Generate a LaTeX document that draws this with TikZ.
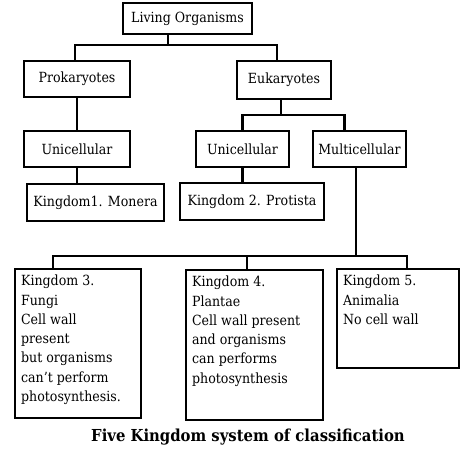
\documentclass[tikz,border=0pt]{standalone}
\usepackage{fontspec}
\setmainfont{DejaVu Serif Condensed}
\usepackage{tikz}
\tikzset{
  box/.style={draw,line width=2.2pt,inner sep=2pt,font=\fontsize{14}{19.3}\selectfont},
  kbox/.style={box,anchor=north west,inner sep=6pt},
  link/.style={line width=2.2pt}
}
\newcommand{\kbtext}[3]{\parbox[t][#1pt][t]{#2pt}{\raggedright #3}}

\begin{document}
\begin{tikzpicture}[x=1pt,y=-1pt]
    \useasboundingbox (0,0) rectangle (474,455);

    \node[box,minimum width=129,minimum height=31] (living) at (187.5,18.5) {Living Organisms};
    \node[box,minimum width=106,minimum height=36] (prok) at (77,79) {Prokaryotes};
    \node[box,minimum width=94,minimum height=38] (euk) at (284,80) {Eukaryotes};
    \node[box,minimum width=106,minimum height=36] (unione) at (77,149) {Unicellular};
    \node[box,minimum width=93,minimum height=36] (unitwo) at (242.5,149) {Unicellular};
    \node[box,minimum width=93,minimum height=36] (multi) at (359.5,149) {Multicellular};
    \node[box,minimum width=137,minimum height=37] (monera) at (95.5,202.5) {Kingdom1. Monera};
    \node[box,minimum width=144,minimum height=37] (protista) at (252,201.5) {Kingdom 2. Protista};

    \node[kbox] (fungi) at (14,268) {\kbtext{137}{114}{Kingdom 3.\\Fungi\\Cell wall\\present\\but organisms\\can't perform\\photosynthesis.}};
    \node[kbox] (plantae) at (185,269) {\kbtext{138}{125}{Kingdom 4.\\Plantae\\Cell wall present\\and organisms\\can performs\\photosynthesis}};
    \node[kbox] (animalia) at (336,268) {\kbtext{87}{110}{Kingdom 5.\\Animalia\\No cell wall}};

    \node[font=\bfseries\fontsize{16.5}{18}\selectfont] (title) at (248,437) {Five Kingdom system of classification};

    \coordinate (ja) at (168,45);
    \coordinate (jb) at (281,115);
    \coordinate (jc) at (356,256);

    \draw[link] (ja |- living.south) -- (ja);
    \draw[link] ([xshift=-2pt]prok.north) |- (ja) -| ([xshift=-7pt]euk.north);
    \draw[link] (prok) -- (unione);
    \draw[link] (unione.south) -- (unione.south |- monera.north);
    \draw[link] (jb |- euk.south) -- (jb);
    \draw[link] (unitwo.north) |- (jb) -| ([xshift=-15pt]multi.north);
    \draw[link] (unitwo.south) -- (unitwo.south |- protista.north);
    \draw[link] (jc |- multi.south) -- (jc);
    \draw[link] ([xshift=39pt]fungi.north west) |- (jc) -| ([xshift=-53pt]animalia.north east);
    \draw[link] ([xshift=62pt]plantae.north west) -- ([xshift=62pt]plantae.north west |- jc);
\end{tikzpicture}
\end{document}
